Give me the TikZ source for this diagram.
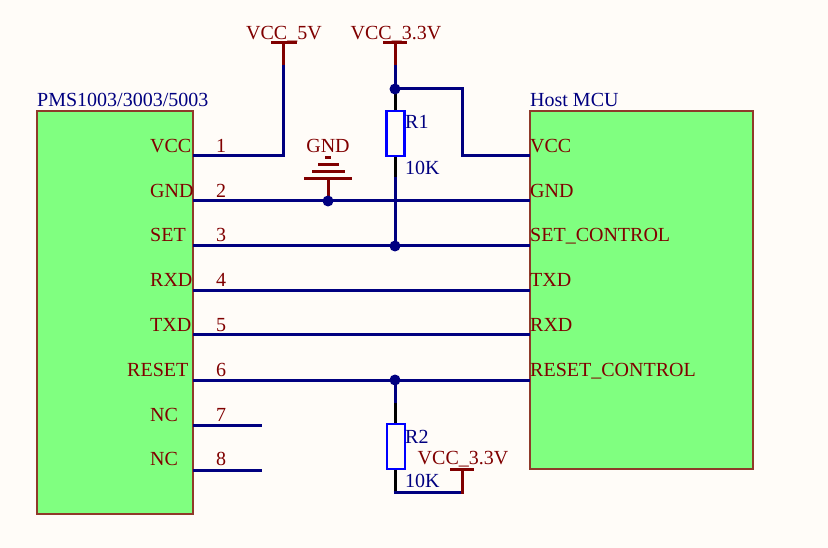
\documentclass[tikz,border=0pt]{standalone}
\usepackage{fontspec}
\setmainfont{Liberation Serif}
\definecolor{bgc}{HTML}{FFFCF8}
\definecolor{wirec}{HTML}{000080}
\definecolor{pwrc}{HTML}{800000}
\definecolor{boxline}{HTML}{8F3A2A}
\definecolor{boxfill}{HTML}{80FF80}
\definecolor{resline}{HTML}{0000FF}
\tikzset{
  x=1pt,y=-1pt,
  chipbox/.style={draw=boxline,fill=boxfill,line width=1.1pt,inner sep=0pt,outer sep=0pt},
  netwire/.style={draw=wirec,line width=3pt,line join=miter},
  pwrwire/.style={draw=pwrc,line width=3pt},
  leadwire/.style={draw=black,line width=3pt},
  resbody/.style={draw=resline,fill=bgc,line width=2.6pt,inner sep=0pt},
  junct/.style={circle,fill=wirec,inner sep=0pt,minimum size=11pt},
  pinlabel/.style={text=pwrc,font=\fontsize{20}{24}\selectfont,inner sep=0pt,anchor=base west},
  pinnum/.style={text=pwrc,font=\fontsize{20}{24}\selectfont,inner sep=0pt,anchor=base},
  pwrlabel/.style={text=pwrc,font=\fontsize{20}{24}\selectfont,inner sep=0pt,anchor=base},
  partlabel/.style={text=wirec,font=\fontsize{20}{24}\selectfont,inner sep=0pt,anchor=base west},
}
\begin{document}
\begin{tikzpicture}
\useasboundingbox (0,0) rectangle (828,548);
\fill[bgc] (0,0) rectangle (828,548);
% chips
\node[chipbox,minimum width=156pt,minimum height=403pt] (sensor) at (115,312.5) {};
\node[chipbox,minimum width=223pt,minimum height=358pt] (mcu) at (641.5,290) {};
% anchors
\foreach \n/\y in {1/156,2/201,3/246,4/291,5/335,6/380,7/425,8/470}{
  \coordinate (L\n) at (193,\y);
  \coordinate (R\n) at (530,\y);
}
\coordinate (nc7) at (262,425);
\coordinate (nc8) at (262,470);
\coordinate (p5a) at (283,65);
\coordinate (p5b) at (283,43);
\coordinate (p3a) at (395,65);
\coordinate (p3b) at (395,43);
\coordinate (j1) at (395,89);
\coordinate (j2) at (395,246);
\coordinate (j3) at (328,201);
\coordinate (j4) at (395,380);
\coordinate (gndtop) at (328,179);
\coordinate (p3c) at (462,469);
% nets
\draw[netwire] (L1) -| (p5a);
\draw[pwrwire] (p5a) -- (p5b);
\draw[pwrwire] (271,43) -- (297,43);
\draw[netwire] (p3a) -- (j1);
\draw[pwrwire] (p3a) -- (p3b);
\draw[pwrwire] (383,43) -- (407,43);
\draw[netwire] (j1) -- (462,89) |- (R1);
\draw[netwire] (L2) -- (R2);
\draw[netwire] (L3) -- (R3);
\draw[netwire] (L4) -- (R4);
\draw[netwire] (L5) -- (R5);
\draw[netwire] (L6) -- (R6);
\draw[netwire] (L7) -- (nc7);
\draw[netwire] (L8) -- (nc8);
% gnd
\draw[pwrwire] (j3) -- (gndtop);
\draw[pwrwire] (304,179) -- (352,179);
\draw[pwrwire] (312,172) -- (345,172);
\draw[pwrwire] (318,165) -- (339,165);
\draw[pwrwire] (325,158) -- (331,158);
% R1
\draw[netwire] (395,177) -- (j2);
\draw[leadwire] (j1) -- (395,177);
\node[resbody,minimum width=18pt,minimum height=45pt] (res1) at (395.5,133.5) {};
% R2
\draw[netwire] (j4) -- (395,403);
\draw[leadwire] (395,403) -- (395,492);
\node[resbody,minimum width=18pt,minimum height=45pt] (res2) at (396,446.5) {};
\draw[netwire] (393.5,492) -- (462,492);
\draw[pwrwire] (462,493.5) -- (p3c);
\draw[pwrwire] (450,469) -- (474,469);
% junctions
\foreach \j in {j1,j2,j3,j4}{\node[junct] at (\j) {};}
% texts
\node[partlabel] (t1) at (37,106.7) {PMS1003/3003/5003};
\node[partlabel] (t2) at (530,106.7) {Host MCU};
\node[pinlabel] at (150,152.7) {VCC};
\node[pinlabel] at (150,197.7) {GND};
\node[pinlabel] at (150,241.7) {SET};
\node[pinlabel] at (150,286.7) {RXD};
\node[pinlabel] at (150,331.2) {TXD};
\node[pinlabel] at (127,376.2) {RESET};
\node[pinlabel] at (150,421) {NC};
\node[pinlabel] at (150,465.2) {NC};
\node[pinlabel] at (530,152.7) {VCC};
\node[pinlabel] at (530,197.7) {GND};
\node[pinlabel] at (530,241.7) {SET\_CONTROL};
\node[pinlabel] at (530,286.7) {TXD};
\node[pinlabel] at (530,331.2) {RXD};
\node[pinlabel] at (530,376.2) {RESET\_CONTROL};
\foreach \n/\y in {1/152.7,2/197.7,3/241.7,4/286.7,5/331.2,6/376.2,7/421,8/465.2}{
  \node[pinnum] at (221,\y) {\n};
}
\node[pwrlabel] at (284,39.7) {VCC\_5V};
\node[pwrlabel] at (396,39.7) {VCC\_3.3V};
\node[pwrlabel] at (328,153) {GND};
\node[pwrlabel] at (463,464.5) {VCC\_3.3V};
\node[partlabel] at (405,128.7) {R1};
\node[partlabel] at (405,174.5) {10K};
\node[partlabel] at (405,443) {R2};
\node[partlabel] at (405,487.5) {10K};
\end{tikzpicture}
\end{document}
